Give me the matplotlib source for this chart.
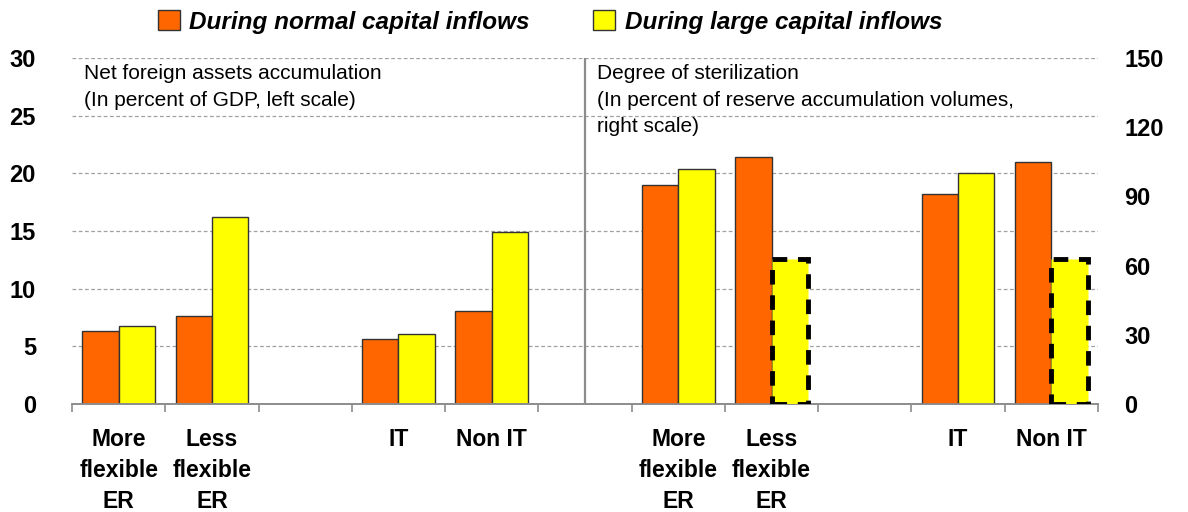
import numpy as np
import matplotlib.pyplot as plt
from matplotlib.patches import Patch

plt.rcParams['font.family'] = ['Liberation Sans', 'DejaVu Sans']

# data
categories = ["More\nflexible\nER", "Less\nflexible\nER", "IT", "Non IT"]
nfa_normal = [6.3, 7.6, 5.6, 8.1]       # percent of GDP, left scale
nfa_large = [6.8, 16.2, 6.1, 14.9]
ster_normal = [95, 107, 91, 105]        # percent of reserve accumulation, right scale
ster_large = [102, 63, 100, 63]
ster_large_dashed = [False, True, False, True]

orange = "#FF6600"
yellow = "#FFFF00"
gray = "#8c8c8c"

left_pos = np.array([0, 1, 3, 4])
right_pos = np.array([6, 7, 9, 10])
w = 0.39

fig = plt.figure(figsize=(11.88, 5.12), dpi=100)
ax = fig.add_axes([72/1188, 108/512, 1026/1188, 346/512])
ax2 = ax.twinx()

# grid first, behind bars
for v in range(5, 35, 5):
    ax.axhline(v, color="#a0a0a0", lw=0.9, ls=(0, (3, 2)), zorder=0)

ax.bar(left_pos - w/2, nfa_normal, w, color=orange, edgecolor="#333333", lw=1, zorder=2)
ax.bar(left_pos + w/2, nfa_large, w, color=yellow, edgecolor="#333333", lw=1, zorder=2)

ax2.bar(right_pos - w/2, ster_normal, w, color=orange, edgecolor="#333333", lw=1, zorder=2)
for p, v, d in zip(right_pos, ster_large, ster_large_dashed):
    if d:
        ax2.bar(p + w/2, v, w, color=yellow, edgecolor="black", lw=3.5,
                ls=(0, (3, 2.2)), zorder=3)
    else:
        ax2.bar(p + w/2, v, w, color=yellow, edgecolor="#333333", lw=1, zorder=2)

ax.axvline(5, color=gray, lw=1.6, zorder=1)

ax.set_xlim(-0.5, 10.5)
ax.set_ylim(0, 30)
ax2.set_ylim(0, 150)
ax.set_yticks(range(0, 35, 5))
ax2.set_yticks(range(0, 180, 30))

for a in (ax, ax2):
    for s in ("top", "left", "right"):
        a.spines[s].set_visible(False)
    a.spines["bottom"].set_color(gray)
    a.spines["bottom"].set_linewidth(1.2)
ax.tick_params(axis="y", length=0, pad=26, labelsize=17)
ax2.tick_params(axis="y", length=0, pad=19, labelsize=17)
for t in ax.get_yticklabels() + ax2.get_yticklabels():
    t.set_fontweight("bold")

centers = list(left_pos) + list(right_pos)
ax.set_xticks(centers, categories + categories)
ax.set_xticks(np.arange(-0.5, 11, 1), minor=True)
ax.tick_params(axis="x", which="major", length=0, pad=17, labelsize=16.5)
ax.tick_params(axis="x", which="minor", length=6, width=1.2, color=gray)
for t in ax.get_xticklabels():
    t.set_fontweight("bold")
    t.set_linespacing(1.45)

# panel notes
fig.text(84/1188, 1 - 64/512, "Net foreign assets accumulation\n(In percent of GDP, left scale)",
         fontsize=15, va="top", linespacing=1.5)
fig.text(597/1188, 1 - 64/512, "Degree of sterilization\n(In percent of reserve accumulation volumes,\nright scale)",
         fontsize=15, va="top", linespacing=1.5)

handles = [Patch(facecolor=orange, edgecolor="#333333"),
           Patch(facecolor=yellow, edgecolor="#333333")]
fig.legend(handles, ["During normal capital inflows", "During large capital inflows"],
           loc="center", bbox_to_anchor=(550/1188, 1 - 22/512), ncol=2, frameon=False,
           prop={"size": 17.5, "weight": "bold", "style": "italic"},
           handlelength=0.9, handleheight=0.9, handletextpad=0.4, columnspacing=2.6)

fig.savefig("out.png", dpi=100)
